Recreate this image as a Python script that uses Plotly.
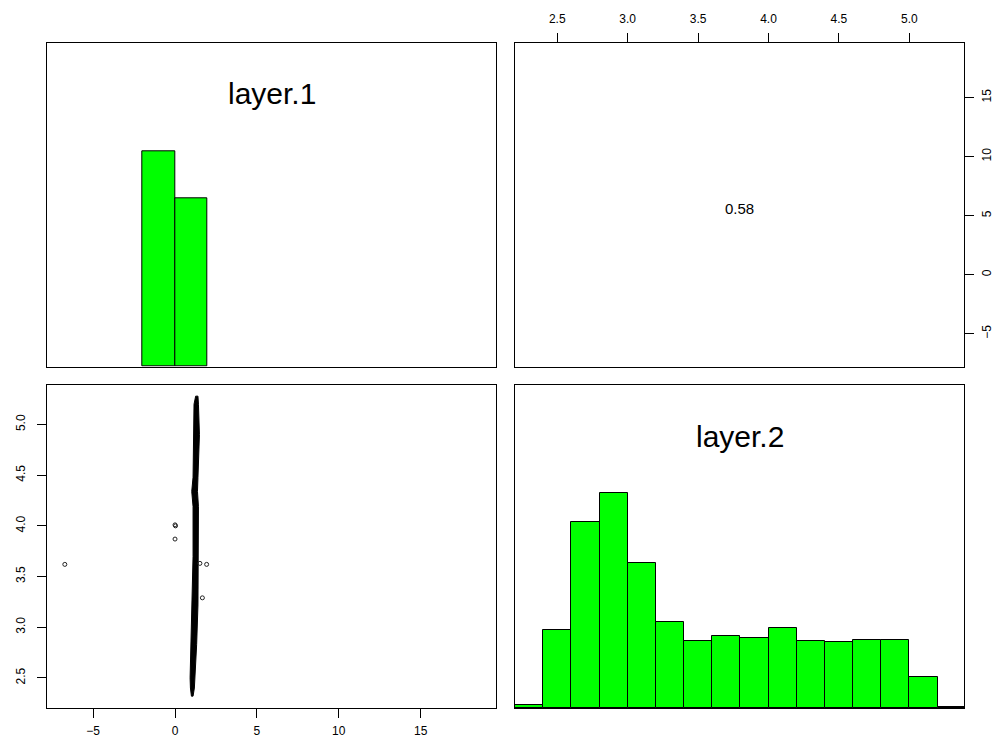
import plotly.graph_objects as go

# ---------------- data ----------------
# layer.1 histogram (relative heights, max = 1)
l1_breaks = [-2.0, 0.0, 2.0]
l1_heights = [1.00, 0.78]

# layer.2 histogram (relative heights, max = 1)
l2_breaks = [2.2, 2.4, 2.6, 2.8, 3.0, 3.2, 3.4, 3.6, 3.8, 4.0, 4.2, 4.4, 4.6, 4.8, 5.0, 5.2, 5.4]
l2_heights = [0.016, 0.362, 0.865, 1.000, 0.672, 0.399, 0.313, 0.334, 0.324, 0.372,
              0.313, 0.307, 0.319, 0.319, 0.146, 0.004]

# dense point cloud of layer.1 vs layer.2 (outline of the solid band)
band_y = [2.32, 2.40, 2.50, 2.83, 3.22, 3.50, 3.70, 4.19, 4.34, 4.48, 4.90, 5.20, 5.28]
band_left = [1.00, 0.94, 0.92, 0.96, 1.00, 1.04, 1.10, 1.10, 1.02, 1.10, 1.16, 1.16, 1.26]
band_right = [1.10, 1.18, 1.22, 1.32, 1.40, 1.40, 1.43, 1.43, 1.37, 1.40, 1.49, 1.43, 1.40]

# isolated points
out_x = [-6.73, 0.0, 0.03, 0.0, 1.52, 1.93, 1.67]
out_y = [3.62, 4.01, 4.00, 3.87, 3.63, 3.62, 3.29]

corr_text = "0.58"
labels = ["layer.1", "layer.2"]

ticks_l1 = [-5, 0, 5, 10, 15]
ticks_l2 = [2.5, 3.0, 3.5, 4.0, 4.5, 5.0]
range_l1 = [-7.8, 19.6]
range_l2 = [2.2, 5.39]
range_hist = [0, 1.5]

# ---------------- figure ----------------
OFF = 8  # page body margin
W, H = 1002 - 2 * OFF, 752 - 2 * OFF - 4
FONT = "Arial, Liberation Sans, sans-serif"
GREEN = "#00FF00"

def mids(b):
    return [(b[i] + b[i + 1]) / 2 for i in range(len(b) - 1)]

def widths(b):
    return [b[i + 1] - b[i] for i in range(len(b) - 1)]

def xd(a, b):
    return [(a - OFF) / W, (b - OFF) / W]

def yd(top, bot):
    return [1 - (bot - OFF) / H, 1 - (top - OFF) / H]

fig = go.Figure()

fig.add_trace(go.Bar(x=mids(l1_breaks), y=l1_heights, width=widths(l1_breaks),
                     marker=dict(color=GREEN, line=dict(color="black", width=1)),
                     xaxis="x", yaxis="y", showlegend=False))
fig.add_trace(go.Bar(x=mids(l2_breaks), y=l2_heights, width=widths(l2_breaks),
                     marker=dict(color=GREEN, line=dict(color="black", width=1)),
                     xaxis="x4", yaxis="y4", showlegend=False))

poly_x = band_left + band_right[::-1] + [band_left[0]]
poly_y = band_y + band_y[::-1] + [band_y[0]]
fig.add_trace(go.Scatter(x=poly_x, y=poly_y, mode="lines", fill="toself",
                         fillcolor="black", line=dict(color="black", width=1),
                         xaxis="x3", yaxis="y3", showlegend=False, hoverinfo="skip"))
fig.add_trace(go.Scatter(x=out_x, y=out_y, mode="markers",
                         marker=dict(symbol="circle-open", size=4, color="#222222",
                                     line=dict(width=1)),
                         xaxis="x3", yaxis="y3", showlegend=False))
# empty trace so that the upper-right panel is drawn
fig.add_trace(go.Scatter(x=[], y=[], mode="markers", xaxis="x2", yaxis="y2",
                         showlegend=False))

col1 = xd(47.3, 496)
col2 = xd(515, 964.3)
row_top = yd(43.3, 366.7)
row_bot = yd(385, 708.3)

box = dict(showline=True, mirror=True, linecolor="black", linewidth=1,
           showgrid=False, zeroline=False, fixedrange=True, automargin=False)
tickstyle = dict(ticks="outside", ticklen=9, tickwidth=1, tickcolor="black",
                 tickfont=dict(family=FONT, size=12, color="black"))
noticks = dict(showticklabels=False, ticks="")

fig.update_layout(
    width=W, height=H,
    margin=dict(l=0, r=0, t=0, b=0),
    paper_bgcolor="white", plot_bgcolor="white",
    bargap=0,
    xaxis=dict(domain=col1, range=range_l1, anchor="y", **box, **noticks),
    yaxis=dict(domain=row_top, range=range_hist, anchor="x", **box, **noticks),
    xaxis2=dict(domain=col2, range=range_l2, anchor="y2", side="top",
                tickvals=ticks_l2, tickformat=".1f", ticklabelstandoff=6,
                **box, **tickstyle),
    yaxis2=dict(domain=row_top, range=range_l1, anchor="x2", side="right",
                tickvals=ticks_l1, tickangle=-90, ticklabelstandoff=2,
                **box, **tickstyle),
    xaxis3=dict(domain=col1, range=range_l1, anchor="y3",
                tickvals=ticks_l1, ticklabelstandoff=2, **box, **tickstyle),
    yaxis3=dict(domain=row_bot, range=range_l2, anchor="x3",
                tickvals=ticks_l2, tickformat=".1f", tickangle=-90,
                ticklabelstandoff=8, **box, **tickstyle),
    xaxis4=dict(domain=col2, range=range_l2, anchor="y4", **box, **noticks),
    yaxis4=dict(domain=row_bot, range=range_hist, anchor="x4", **box, **noticks),
)

fig.add_annotation(text=labels[0], xref="x domain", yref="y domain", x=0.5, y=0.845,
                   showarrow=False, xanchor="center", yanchor="middle",
                   font=dict(family=FONT, size=30, color="black"))
fig.add_annotation(text=labels[1], xref="x4 domain", yref="y4 domain", x=0.5, y=0.84,
                   showarrow=False, xanchor="center", yanchor="middle",
                   font=dict(family=FONT, size=30, color="black"))
fig.add_annotation(text=corr_text, xref="x2 domain", yref="y2 domain", x=0.5, y=0.49,
                   showarrow=False, xanchor="center", yanchor="middle",
                   font=dict(family=FONT, size=15, color="black"))

fig.write_html("out.html")
